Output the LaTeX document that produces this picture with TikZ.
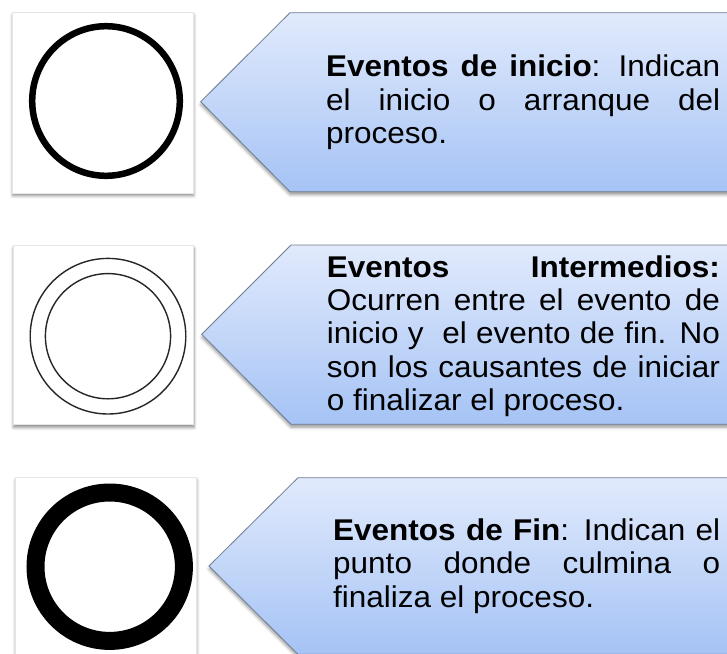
\documentclass[tikz,border=0pt]{standalone}
\usepackage{fontspec}
\setmainfont{Liberation Sans}[FakeStretch=1.05]
\usetikzlibrary{shadows.blur}
\definecolor{arrtop}{HTML}{E1EAFC}
\definecolor{arrbot}{HTML}{A5C3F5}
\definecolor{arredge}{HTML}{6E7E92}
\newcommand\jline[1]{\hbox to \linewidth{#1}}
\newcommand\eline[1]{\hbox{#1}}
\newcommand\txtsetup{\fontsize{30pt}{33.3pt}\selectfont\baselineskip=33.3pt\lineskiplimit=-100pt}
\begin{document}
\begin{tikzpicture}[x=1pt,y=-1pt,
  imgbox/.style={fill=white, draw=gray!20, line width=0.4pt, inner sep=0pt, anchor=north west,
    blur shadow={shadow xshift=0.5pt, shadow yshift=-3pt, shadow blur radius=3pt, shadow opacity=45}},
  arrowshape/.style={draw=arredge, line width=0.8pt, top color=arrtop, bottom color=arrbot,
    blur shadow={shadow xshift=0pt, shadow yshift=-3pt, shadow blur radius=3pt, shadow opacity=40}},
  txt/.style={anchor=base west, inner sep=0pt}]
\useasboundingbox (0,0) rectangle (727,653);
\clip (0,0) rectangle (727,653);

% ---------- row 1 ----------
\node[imgbox, minimum width=181pt, minimum height=180.5pt] (b1) at (12,12) {};
\coordinate (c1) at (106,101);
\draw[line width=6.5pt] (c1) circle[x radius=73.8pt, y radius=74.8pt];
\path[arrowshape] (200.7,101.7) -- (290,12.7) -- (790,12.7) -- (790,191.7) -- (290,191.7) -- cycle;
\node[txt] (t1) at (326,76.7) {\parbox[t]{394pt}{\txtsetup
  \jline{\textbf{Eventos de inicio}: Indican}
  \jline{el inicio o arranque del}
  \eline{proceso.}}};

% ---------- row 2 ----------
\node[imgbox, minimum width=180.6pt, minimum height=179.3pt] (b2) at (12.7,245) {};
\coordinate (c2) at (108,336.2);
\draw[line width=1.4pt, black!85] (c2) circle[radius=77.8pt];
\draw[line width=1.4pt, black!85] (c2) circle[radius=62.6pt];
\path[arrowshape] (201.7,334.3) -- (291,245) -- (790,245) -- (790,424.3) -- (291,424.3) -- cycle;
\node[txt] (t2) at (326.7,277.3) {\parbox[t]{393pt}{\txtsetup
  \jline{\textbf{Eventos Intermedios:}}
  \jline{Ocurren entre el evento de}
  \jline{inicio y\ \ el evento de fin. No}
  \jline{son los causantes de iniciar}
  \eline{o finalizar el proceso.}}};

% ---------- row 3 ----------
\node[imgbox, minimum width=181pt, minimum height=200pt] (b3) at (15,477) {};
\coordinate (c3) at (109.7,566.7);
\draw[line width=18pt] (c3) circle[radius=74.2pt];
\path[arrowshape] (209,566) -- (298,477.7) -- (790,477.7) -- (790,654.3) -- (298,654.3) -- cycle;
\node[txt] (t3) at (333,540.5) {\parbox[t]{387pt}{\txtsetup
  \jline{\textbf{Eventos de Fin}: Indican el}
  \jline{punto donde culmina o}
  \eline{finaliza el proceso.}}};
\end{tikzpicture}
\end{document}
